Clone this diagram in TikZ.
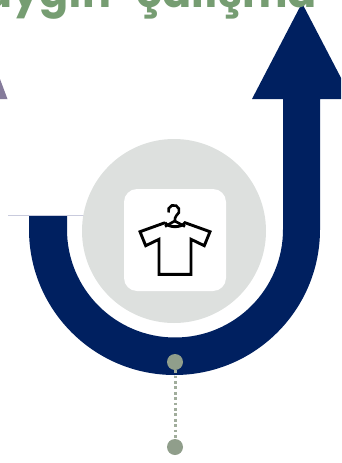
\documentclass[tikz,border=0pt]{standalone}
\usepackage{fontspec}
\setmainfont{Poppins}
\definecolor{arrowblue}{HTML}{002060}
\definecolor{titlegreen}{HTML}{769D72}
\definecolor{discgray}{HTML}{DDE0DE}
\definecolor{dotgreen}{HTML}{909E8B}
\definecolor{wedgepurple}{HTML}{857B9B}
\definecolor{rulelav}{HTML}{C9CBDD}
\tikzset{
    pin/.style={circle, fill=dotgreen, inner sep=0pt, minimum size=16pt},
    tee/.style={line width=2.9pt, line join=miter},
}
\begin{document}
\begin{tikzpicture}[x=1pt, y=-1pt]
    \useasboundingbox (0,0) rectangle (341,463);
    \clip (0,0) rectangle (341,463);

    % arrow with the turn round the disc
    \fill[arrowblue] (29,215) -- (29,229.5) arc[start angle=180, end angle=0, radius=145.5]
        -- (320,99) -- (352,99) -- (302,3) -- (252,99) -- (283,99) -- (283,229.5)
        arc[start angle=0, end angle=180, radius=108] -- (67,215) -- cycle;
    \fill[wedgepurple] (0,79) -- (7.5,99) -- (0,99) -- cycle;
    \draw[rulelav, line width=0.7pt] (8,215) -- (85,215);

    \node[circle, fill=discgray, inner sep=0pt, minimum size=184pt] (disc) at (174,231) {};
    \node[rectangle, rounded corners=13pt, fill=white, inner sep=0pt, minimum size=102pt] (tile) at (175,240) {};

    % shirt on its hanger
    \draw[tee] (165,222.7) -- (140,231.7) -- (145.7,245.7) -- (159,239.3) -- (159,274.3)
        -- (191,274.3) -- (191,239.3) -- (204.3,245.7) -- (210,231.7) -- (185,222.7)
        .. controls (181,228) and (169,228) .. (165,222.7);
    \draw[line width=2.6pt] (168.6,212.5) arc[start angle=160, end angle=420, radius=5.5]
        .. controls (175.5,217) and (174.7,218) .. (174.7,221) -- (165,226.5);
    \draw[line width=2.6pt] (174.7,221) -- (185,226.5);

    \node[pin] (pintop) at (175,362) {};
    \node[pin] (pinend) at (175,447) {};
    \draw[dotgreen!85!white, line width=3pt, dash pattern=on 2.8pt off 2.6pt] (pintop) -- (pinend);

    \node[anchor=base west, inner sep=0pt, text=titlegreen, font=\bfseries\fontsize{43}{43}\selectfont] (title) at (-17,7.5) {uygın\hspace{16pt} çalışma};
\end{tikzpicture}
\end{document}
